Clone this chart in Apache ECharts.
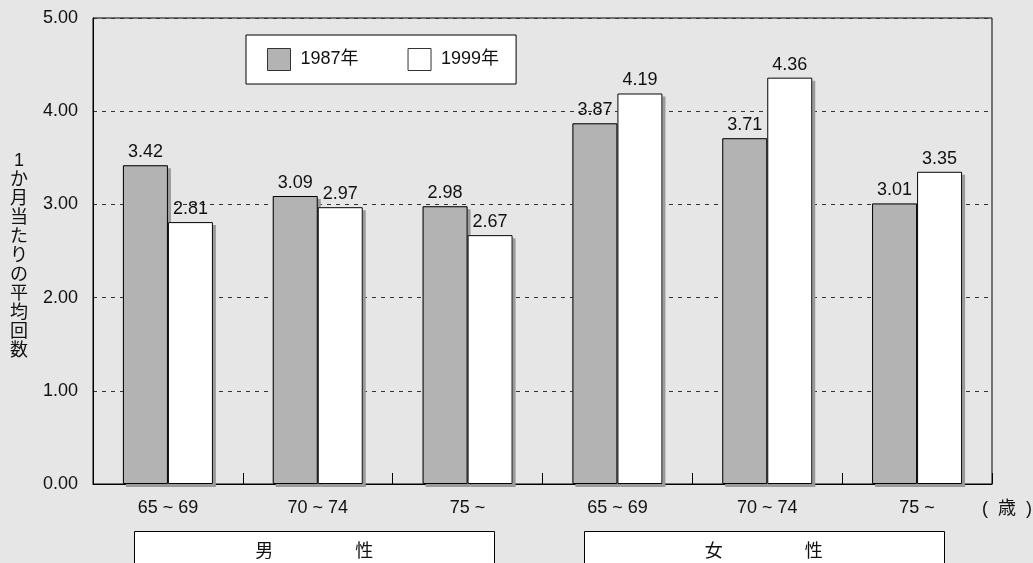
<!DOCTYPE html>
<html>
<head>
<meta charset="utf-8">
<script src="https://cdn.jsdelivr.net/npm/echarts@6/dist/echarts.min.js"></script>
<style>
  html, body { margin: 0; padding: 0; background: #e6e6e6; }
  #chart { width: 1033px; height: 563px; }
</style>
</head>
<body>
<div id="chart"></div>
<script>
// Age groups (men first, then women) and average monthly counts
const categories = ['65 ~ 69', '70 ~ 74', '75 ~', '65 ~ 69', '70 ~ 74', '75 ~'];
const values1987 = [3.42, 3.09, 2.98, 3.87, 3.71, 3.01];
const values1999 = [2.81, 2.97, 2.67, 4.19, 4.36, 3.35];
const seriesNames = ['1987年', '1999年'];
const yTicks = [0, 1, 2, 3, 4, 5];
const yTitle = '1か月当たりの平均回数';
const unitLabel = '(  歳  )';
// sex groups spanning category index ranges
const groupNames = ['男', '女'];
const groupSuffix = '性';
const groupRanges = [[0, 2], [3, 5]];

const FONT = '"Liberation Sans", Arial, "Noto Sans CJK JP", sans-serif';
const TEXT = '#111';
const FILLS = ['#b3b3b3', '#ffffff'];
const seriesValues = [values1987, values1999];

const chart = echarts.init(document.getElementById('chart'), null, { renderer: 'canvas' });

const labelStyle = {
  show: true,
  position: 'top',
  distance: 4,
  fontFamily: FONT,
  fontSize: 18,
  color: TEXT,
  formatter: (p) => p.value.toFixed(2)
};

// Bottom layer: filled bars casting a flat drop shadow (no outline, so the
// outline's shadow never lands inside the fill)
const shadowLayer = seriesValues.map((vals, i) => ({
  name: seriesNames[i], type: 'bar', data: vals,
  xAxisIndex: 0,
  barWidth: 45, barGap: '0%',
  itemStyle: {
    color: FILLS[i], borderWidth: 0,
    shadowColor: '#9a9a9a', shadowBlur: 0, shadowOffsetX: 3, shadowOffsetY: 3
  },
  z: 2
}));

// Top layer: the same bars outlined in black, carrying the value labels
const outlineLayer = seriesValues.map((vals, i) => ({
  name: seriesNames[i], type: 'bar', data: vals,
  xAxisIndex: 1,
  barWidth: 45, barGap: '0%',
  itemStyle: { color: FILLS[i], borderColor: '#000', borderWidth: 1 },
  label: labelStyle,
  z: 3
}));

chart.setOption({
  backgroundColor: '#e6e6e6',
  animation: false,
  textStyle: { fontFamily: FONT },
  grid: {
    left: 93, right: 41, top: 18, bottom: 79,
    show: true, borderColor: '#000', borderWidth: 1,
    backgroundColor: 'transparent'
  },
  legend: {
    left: 246, top: 35,
    orient: 'horizontal',
    data: seriesNames,
    icon: 'rect',
    itemWidth: 23, itemHeight: 22, itemGap: 49,
    padding: [13, 17, 13, 21],
    backgroundColor: '#fff',
    borderColor: '#000',
    borderWidth: 1,
    borderRadius: 0,
    selectedMode: false,
    itemStyle: {
      borderColor: '#333', borderWidth: 1,
      shadowColor: 'rgba(0,0,0,0)', shadowBlur: 0, shadowOffsetX: 0, shadowOffsetY: 0
    },
    textStyle: { fontFamily: FONT, fontSize: 18, color: TEXT, padding: [0, 0, 0, 5] }
  },
  xAxis: [
    {
      type: 'category',
      data: categories,
      boundaryGap: true,
      axisLine: { show: true, lineStyle: { color: '#000', width: 1 } },
      axisTick: { show: true, inside: true, length: 11, lineStyle: { color: '#000' } },
      axisLabel: { fontFamily: FONT, fontSize: 18, color: TEXT, margin: 15, interval: 0 },
      splitLine: { show: false }
    },
    {
      type: 'category',
      data: categories,
      boundaryGap: true,
      show: false
    }
  ],
  yAxis: {
    type: 'value',
    min: yTicks[0],
    max: yTicks[yTicks.length - 1],
    interval: 1,
    axisLine: { show: true, lineStyle: { color: '#000', width: 1 } },
    axisTick: { show: false },
    axisLabel: {
      fontFamily: FONT, fontSize: 18, color: TEXT, margin: 15,
      formatter: (v) => v.toFixed(2)
    },
    splitLine: { show: true, lineStyle: { color: '#333', width: 1, type: [4, 5] } }
  },
  series: shadowLayer.concat(outlineLayer)
});

// Decorations placed from the axis scale: sex group boxes, axis title, unit
const catX = (i) => chart.convertToPixel({ xAxisIndex: 0 }, i);
const step = catX(1) - catX(0);

const graphics = [];
groupRanges.forEach((r, g) => {
  const cx = (catX(r[0]) + catX(r[1])) / 2 - 3.5;
  const w = step * 2.4;
  graphics.push({
    type: 'rect',
    shape: { x: Math.round(cx - w / 2) + 0.5, y: 531.5, width: Math.round(w), height: 40 },
    style: { fill: '#fff', stroke: '#000', lineWidth: 1 },
    z: 10
  });
  graphics.push({
    type: 'text',
    x: cx, y: 552,
    style: {
      text: groupNames[g] + '　　　　  ' + groupSuffix,
      fontFamily: FONT, fontSize: 18, fill: TEXT,
      textAlign: 'center', textVerticalAlign: 'middle'
    },
    z: 11
  });
});

graphics.push({
  type: 'text',
  x: 19, y: 152,
  style: {
    text: yTitle.split('').join('\n'),
    fontFamily: FONT, fontSize: 18, lineHeight: 19, fill: TEXT,
    textAlign: 'center', textVerticalAlign: 'top'
  }
});

graphics.push({
  type: 'text',
  x: 1007, y: 509,
  style: {
    text: unitLabel,
    fontFamily: FONT, fontSize: 18, fill: TEXT,
    textAlign: 'center', textVerticalAlign: 'middle'
  }
});

chart.setOption({ graphic: graphics });
</script>
</body>
</html>
